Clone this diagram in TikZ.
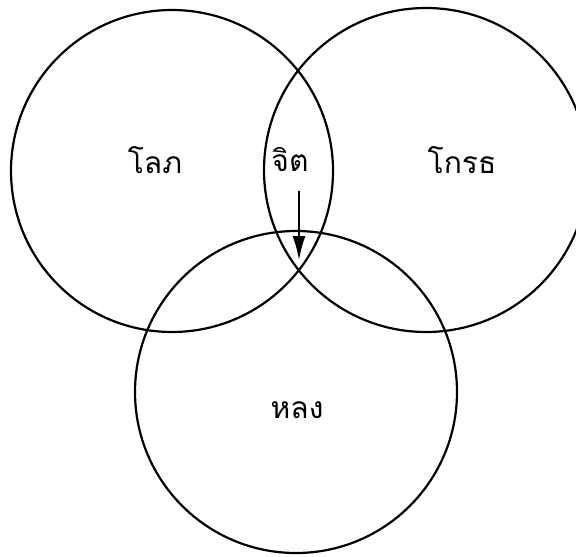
\documentclass[tikz,border=0pt]{standalone}
\usepackage{fontspec}
\newfontfamily\thaifont[Script=Thai]{Loma}
\usetikzlibrary{arrows.meta}

\begin{document}
\begin{tikzpicture}[x=0.5pt, y=-0.5pt,
    ring/.style={line width=1.1pt},
    word/.style={inner sep=0pt, font=\thaifont\fontsize{15}{18}\selectfont},
    pointer/.style={line width=0.9pt, -{Latex[length=12pt, width=6.5pt]}}]
\useasboundingbox (0,0) rectangle (576,556);
\clip (0,0) rectangle (576,556);
\draw[ring] (172,171) circle (161);
\draw[ring] (426,170) circle (162);
\draw[ring] (296,392) circle (161);
\node[word] (lobha) at (155,160) {โลภ};
\node[word] (jit) at (290,160) {จิต};
\node[word] (krodh) at (462,160) {โกรธ};
\node[word] (long) at (297,410) {หลง};
\coordinate (tip) at (299,260);
\draw[pointer, shorten <=9pt] (jit.south -| tip) -- (tip);
\end{tikzpicture}
\end{document}
